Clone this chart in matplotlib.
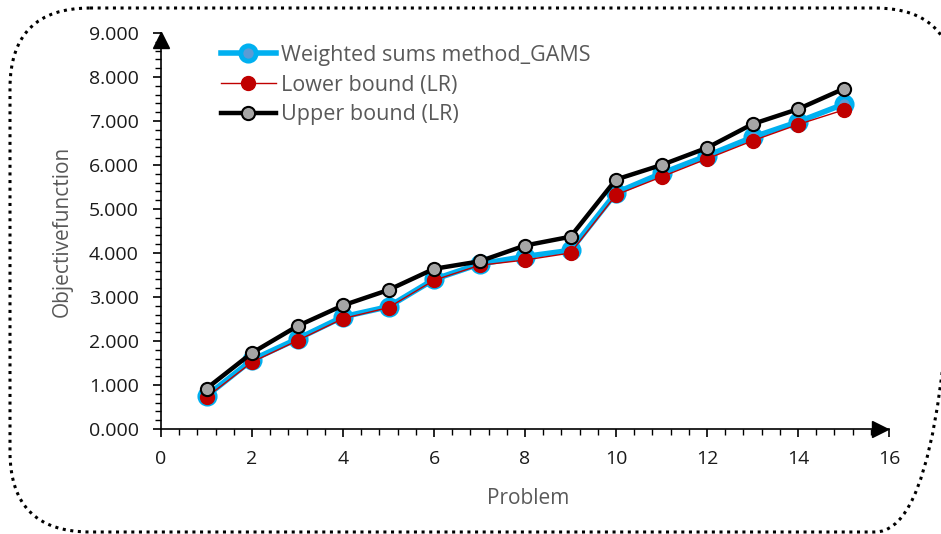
import matplotlib
matplotlib.use("Agg")
import matplotlib.pyplot as plt
from matplotlib.patches import FancyBboxPatch
from matplotlib.ticker import MultipleLocator, FormatStrFormatter

problems = list(range(1, 16))
gams = [0.75, 1.57, 2.05, 2.55, 2.78, 3.40, 3.75, 3.92, 4.06, 5.37, 5.81, 6.21, 6.63, 6.98, 7.38]
lower = [0.72, 1.52, 2.01, 2.51, 2.76, 3.38, 3.72, 3.84, 4.00, 5.32, 5.73, 6.14, 6.55, 6.92, 7.25]
upper = [0.92, 1.73, 2.34, 2.81, 3.16, 3.64, 3.81, 4.17, 4.37, 5.67, 6.00, 6.39, 6.93, 7.27, 7.73]

plt.rcParams['font.family'] = ['Open Sans', 'DejaVu Sans']

W, H = 941, 534
fig = plt.figure(figsize=(W/100, H/100), dpi=100)

# background overlay axes in pixel coordinates for the rounded dotted border
bg = fig.add_axes([0, 0, 1, 1], zorder=-1)
bg.set_xlim(0, W)
bg.set_ylim(H, 0)
bg.axis('off')
border = FancyBboxPatch((10, 8), 945, 524,
                        boxstyle="round,pad=0,rounding_size=80",
                        fill=False, edgecolor='black',
                        linestyle=(0, (1, 1.5)), linewidth=2.2, clip_on=False)
bg.add_patch(border)

ax = fig.add_axes([161/W, 1-429/H, (889-161)/W, (429-33)/H])
ax.patch.set_alpha(0)

ax.plot(problems, gams, color='#00B0F0', lw=4, marker='o', ms=11,
        mfc='#5B9BD5', mec='#00B0F0', mew=3.5, label='Weighted sums method_GAMS', zorder=3)
ax.plot(problems, lower, color='#C00000', lw=1, marker='o', ms=10,
        mfc='#C00000', mec='#C00000', label='Lower bound (LR)', zorder=4)
ax.plot(problems, upper, color='black', lw=3.2, marker='o', ms=9.5,
        mfc='#A5A5A5', mec='black', mew=1.5, label='Upper bound (LR)', zorder=5)

ax.set_xlim(0, 16)
ax.set_ylim(0, 9)
ax.xaxis.set_major_locator(MultipleLocator(2))
ax.xaxis.set_minor_locator(MultipleLocator(0.4))
ax.yaxis.set_major_locator(MultipleLocator(1))
ax.yaxis.set_minor_locator(MultipleLocator(0.2))
ax.yaxis.set_major_formatter(FormatStrFormatter('%.3f'))
for s in ['top', 'right']:
    ax.spines[s].set_visible(False)
for s in ['left', 'bottom']:
    ax.spines[s].set_linewidth(1.2)
ax.tick_params(which='major', length=6, width=1.2, labelsize=14, labelcolor='#1a1a1a')
ax.tick_params(which='minor', length=4.5, width=1)
ax.tick_params(axis='x', pad=9)
ax.tick_params(axis='y', pad=10)

ax.plot(0, 8.83, marker='^', color='black', ms=11, clip_on=False, zorder=6)
ax.plot(15.8, 0, marker='>', color='black', ms=11, clip_on=False, zorder=6)

ax.set_xlabel('Problem', fontsize=15, color='#595959', va='center')
ax.xaxis.set_label_coords((528.5-161)/728, (429-499)/396)
ax.set_ylabel('Objectivefunction', fontsize=15, color='#595959', va='center')
ax.yaxis.set_label_coords((62-161)/728, (429-231.5)/396)

leg = ax.legend(loc='upper left', bbox_to_anchor=(221/W, 1-45/H),
                bbox_transform=fig.transFigure, frameon=False,
                fontsize=15.5, labelcolor='#595959', handlelength=2.55,
                handletextpad=0.25, labelspacing=0.4, borderpad=0, borderaxespad=0)

fig.savefig('out.png', dpi=100)
